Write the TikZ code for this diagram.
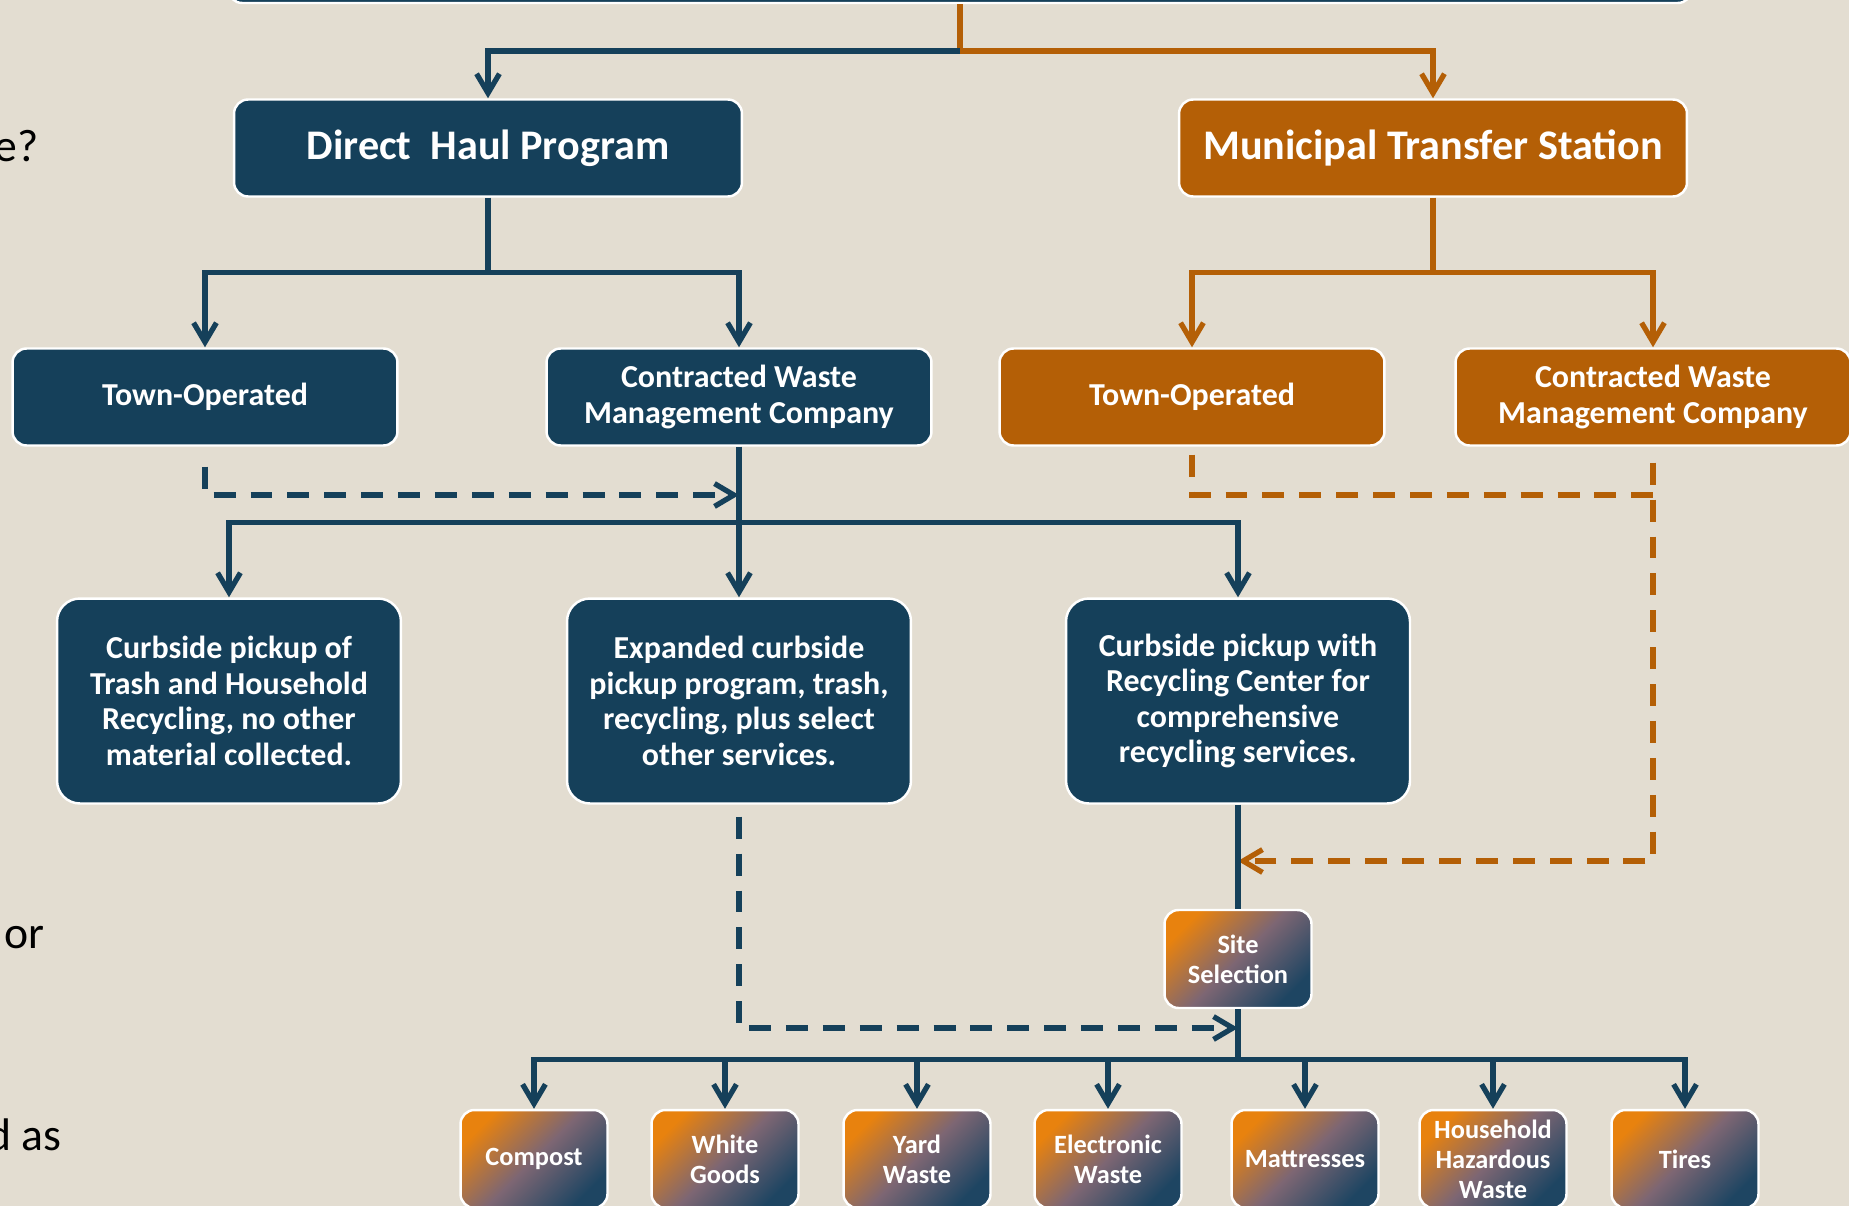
\documentclass[tikz,border=0pt]{standalone}
\usepackage{fontspec}
\setmainfont{Carlito}
\usetikzlibrary{arrows.meta,calc,positioning}
\definecolor{slate}{HTML}{15405A}
\definecolor{rust}{HTML}{B45F06}
\definecolor{paper}{HTML}{E3DDD1}
\definecolor{glow}{HTML}{E8820E}
\definecolor{mauve}{HTML}{7D6673}
\definecolor{deep}{HTML}{1E4562}
\tikzset{
  box/.style={draw=white,line width=1.4pt,rounded corners=8pt,text=white,align=center,inner sep=0pt},
  blue box/.style={box,fill=slate},
  orange box/.style={box,fill=rust},
  program/.style={minimum width=10.16cm,minimum height=1.94cm,font=\bfseries\fontsize{24}{28}\selectfont},
  operator/.style={minimum width=7.7cm,minimum height=1.94cm,font=\bfseries\fontsize{18.2}{21}\selectfont},
  service/.style={blue box,rounded corners=13pt,minimum width=6.88cm,minimum height=4.1cm,font=\bfseries\fontsize{18.2}{20.2}\selectfont},
  material/.style={box,top color=glow,bottom color=deep,middle color=mauve,shading angle=45,minimum width=2.94cm,minimum height=1.96cm,font=\bfseries\fontsize{15}{17}\selectfont},
  side text/.style={anchor=base east,inner sep=0pt,text=black,font=\fontsize{26}{30}\selectfont},
  blue link/.style={draw=slate,line width=3pt},
  orange link/.style={draw=rust,line width=3pt},
  blue dash/.style={blue link,dash pattern=on 12.5pt off 8.5pt},
  orange dash/.style={orange link,dash pattern=on 12.5pt off 8.5pt},
  arrowed/.style={-{Straight Barb[length=11pt,width=13pt]}}
}

\begin{document}
\begin{tikzpicture}[x=0.02cm,y=-0.02cm]
  \useasboundingbox (0,0) rectangle (1849,1206);
  \fill[paper] (0,0) rectangle (1849,1206);
  \clip (0,0) rectangle (1849,1206);

  % text of the slide, cut at the left margin
  \node[side text] (question) at (39,162) {e?};
  \node[side text] (choice) at (45,948) {or};
  \node[side text] (usage) at (62,1150) {d as};

  % programs
  \node[blue box,minimum width=29.28cm,minimum height=1.2cm] (plan) at (960,-27) {};
  \node[blue box,program] (direct haul) at (488,148) {Direct\ \ Haul Program};
  \node[orange box,program] (transfer station) at (1433,148) {Municipal Transfer Station};

  % operators
  \node[blue box,operator] (haul town) at (205,397) {Town-Operated};
  \node[blue box,operator] (haul contract) at (739,397) {Contracted Waste\\Management Company};
  \node[orange box,operator] (station town) at (1192,397) {Town-Operated};
  \node[orange box,operator,minimum width=7.9cm] (station contract) at (1653,397) {Contracted Waste\\Management Company};

  % services
  \node[service] (curbside) at (229,701) {Curbside pickup of\\Trash and Household\\Recycling, no other\\material collected.};
  \node[service] (expanded) at (739,701) {Expanded curbside\\pickup program, trash,\\recycling, plus select\\other services.};
  \node[service] (center) at (1238,701) {Curbside pickup with\\Recycling Center for\\comprehensive\\recycling services.};
  \node[material] (site) at (1238,959) {Site\\Selection};

  % materials
  \foreach \name/\x/\txt in {compost/534/Compost,white goods/725/White\\Goods,yard waste/917/Yard\\Waste,
      electronic waste/1108/Electronic\\Waste,mattresses/1305/Mattresses,
      hazardous waste/1493/Household\\Hazardous\\Waste,tires/1685/Tires}
    \node[material] (\name) at (\x,1159) {\txt};

  % connectors
  \coordinate (top split) at (960,51);
  \draw[orange link] (plan.south) -- (top split);
  \draw[blue link,arrowed] (top split) -| (direct haul.north);
  \draw[orange link,arrowed] (top split) -| (transfer station.north);

  \draw[blue link] (direct haul.south) -- ++(0,75) coordinate (haul split);
  \draw[blue link,arrowed] (haul split) -| (haul town.north);
  \draw[blue link,arrowed] (haul split) -| (haul contract.north);
  \draw[orange link] (transfer station.south) -- ++(0,75) coordinate (station split);
  \draw[orange link,arrowed] (station split) -| (station town.north);
  \draw[orange link,arrowed] (station split) -| (station contract.north);

  \draw[blue link] (haul contract.south) -- ++(0,76) coordinate (service split);
  \draw[blue link,arrowed] (service split) -| (curbside.north);
  \draw[blue link,arrowed] (service split) -- (expanded.north);
  \draw[blue link,arrowed] (service split) -| (center.north);

  \coordinate (haul merge) at (739,495);
  \draw[blue dash,arrowed] ($(haul town.south)+(0,20)$) |- (haul merge);

  \coordinate (station merge) at (1653,495);
  \coordinate (center join) at (1238,861);
  \draw[orange dash] ($(station town.south)+(0,8)$) |- (station merge);
  \draw[orange dash,arrowed] ($(station contract.south)+(0,16)$) |- (center join);

  \draw[blue link] (center.south) -- (site.north);
  \draw[blue link] (site.south) -- ++(0,50) coordinate (material split);
  \coordinate (material join) at (1238,1028);
  \draw[blue dash,arrowed] ($(expanded.south)+(0,12)$) |- (material join);
  \foreach \name in {compost,white goods,yard waste,electronic waste,mattresses,hazardous waste,tires}
    \draw[blue link,arrowed] (material split) -| (\name.north);
\end{tikzpicture}
\end{document}
